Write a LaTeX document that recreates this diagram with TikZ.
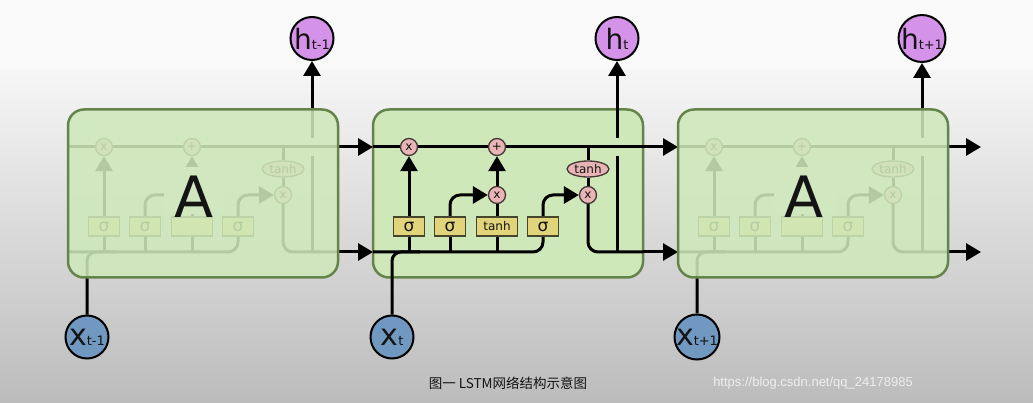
\documentclass[tikz,border=0pt]{standalone}
\usepackage{fontspec}
\setmainfont{DejaVu Sans}
\newfontfamily\cjk{Noto Sans CJK SC}
\newfontfamily\libsans{Liberation Sans}
\usetikzlibrary{arrows.meta,shapes.geometric}
\definecolor{cellfill}{RGB}{206,232,186}
\definecolor{cellline}{RGB}{100,132,76}
\definecolor{opfill}{RGB}{232,180,182}
\definecolor{opline}{RGB}{70,55,55}
\definecolor{gatefill}{RGB}{226,212,122}
\definecolor{gateline}{RGB}{70,70,45}
\definecolor{hfill}{RGB}{212,146,232}
\definecolor{xfill}{RGB}{112,152,192}
\definecolor{bgtop}{RGB}{249,249,249}
\definecolor{bgmid}{RGB}{246,246,246}
\definecolor{bgbot}{RGB}{188,188,188}
\definecolor{patchcol}{RGB}{226,226,226}
\definecolor{urlcol}{RGB}{238,238,238}
\definecolor{ink}{RGB}{20,20,20}
\newcommand{\fs}[1]{\fontsize{#1}{#1}\selectfont}
\pgfdeclarelayer{bg}
\pgfdeclarelayer{wires}
\pgfdeclarelayer{front}
\pgfsetlayers{bg,wires,main,front}
\begin{document}
\begin{tikzpicture}[x=1pt,y=-1pt,
  wire/.style={line width=3pt, draw=black},
  arr/.style={wire, -{Triangle[length=15pt,width=17pt]}},
  op/.style={circle, draw=opline, fill=opfill, line width=1.3pt, minimum size=17pt, inner sep=0pt, font=\fs{12}, text=ink},
  gate/.style={rectangle, draw=gateline, fill=gatefill, line width=1.3pt, minimum width=31pt, minimum height=19pt, inner sep=0pt, font=\fs{17}, text=ink},
  tgate/.style={gate, minimum width=41pt, font=\fs{12}},
  tanhop/.style={ellipse, draw=opline, fill=opfill, line width=1.3pt, minimum width=42pt, minimum height=16pt, inner sep=0pt, font=\fs{12}, text=ink},
  cellbox/.style={rectangle, rounded corners=16pt, draw=cellline, fill=cellfill, line width=2.5pt, minimum width=270pt, minimum height=168pt, inner sep=0pt},
  hcirc/.style={circle, draw=black, fill=hfill, line width=2pt, minimum size=43pt, inner sep=0pt, text=ink},
  xcirc/.style={circle, draw=black, fill=xfill, line width=2pt, minimum size=43pt, inner sep=0pt, text=ink},
  bigA/.style={font=\fs{57}, text=ink, inner sep=0pt}
]
\useasboundingbox (0,0) rectangle (1033,403);
\begin{pgfonlayer}{bg}
  \fill[bgtop] (0,0) rectangle (1033,403);
  \shade[top color=bgmid, bottom color=bgbot] (0,70) rectangle (1033,403);
  \node[cellbox] (boxM) at (508,193.5) {};
\end{pgfonlayer}

% outputs and inputs
\node[hcirc] (hL) at (312,38.5) {\fs{28}h\fs{13}t-1};
\node[hcirc] (hM) at (617,38.5) {\fs{28}h\fs{13}t};
\node[hcirc] (hR) at (922,38.5) {\fs{28}h\fs{13}t+1};
\node[xcirc] (xL) at (87,337) {\fs{30}x\fs{13}t-1};
\node[xcirc] (xM) at (392,337) {\fs{30}x\fs{13}t};
\node[xcirc] (xR) at (697,337) {\fs{30}x\fs{13}t+1};

\foreach \k/\dx/\tl/\ml in {L/-305/{}/{},M/0/tanh/x,R/305/{}/{}}{
\begin{scope}[xshift=\dx pt]
  \coordinate (cin\k) at (373,147);
  \coordinate (cout\k) at (643,147);
  \coordinate (hin\k) at (373,252);
  \coordinate (hout\k) at (643,252);
  \coordinate (xj\k) at (420,252);
  \coordinate (hj\k) at (617,252);
  \coordinate (gb\k) at (617,156);
  \coordinate (gt\k) at (617,138);
  \node[op] (m1\k) at (409,147) {x};
  \node[op] (a\k) at (497,147) {+};
  \node[op] (m2\k) at (497,195) {\ml};
  \node[op] (m3\k) at (588,195) {x};
  \node[tanhop] (th\k) at (588,169) {tanh};
  \node[gate] (s1\k) at (409,226.5) {σ};
  \node[gate] (s2\k) at (450,226.5) {σ};
  \node[tgate] (tb\k) at (497,226.5) {\tl};
  \node[gate] (s4\k) at (543,226.5) {σ};
\end{scope}
\begin{pgfonlayer}{wires}
  \draw[wire] (cin\k) -- (cout\k);
  \draw[wire, rounded corners=10pt] (hin\k) -| (s4\k.south);
  \draw[wire, rounded corners=9pt] (x\k.north) |- (xj\k);
  \draw[wire] (s1\k.south) -- (s1\k.south |- hin\k);
  \draw[wire] (s2\k.south) -- (s2\k.south |- hin\k);
  \draw[wire] (tb\k.south) -- (tb\k.south |- hin\k);
  \draw[arr] (s1\k.north) -- (m1\k.south);
  \draw[arr, rounded corners=10pt] (s2\k.north) |- (m2\k.west);
  \draw[wire] (tb\k.north) -- (m2\k.south);
  \draw[arr] (m2\k.north) -- (a\k.south);
  \draw[arr, rounded corners=10pt] (s4\k.north) |- (m3\k.west);
  \draw[wire] (th\k.north |- cin\k) -- (th\k.north);
  \draw[wire] (th\k.south) -- (m3\k.north);
  \draw[wire, rounded corners=10pt] (m3\k.south) |- (hout\k);
  \draw[wire] (hj\k) -- (gb\k);
  \draw[arr] (gt\k) -- (h\k.south);
\end{pgfonlayer}
}
\coordinate (cend) at (981,147);
\coordinate (hend) at (981,252);
\begin{pgfonlayer}{wires}
  \draw[arr] (coutL) -- (cinM);
  \draw[arr] (houtL) -- (hinM);
  \draw[arr] (coutM) -- (cinR);
  \draw[arr] (houtM) -- (hinR);
  \draw[arr] (coutR) -- (cend);
  \draw[arr] (houtR) -- (hend);
\end{pgfonlayer}

\begin{pgfonlayer}{front}
  \fill[patchcol] (164,167) rectangle (225,214);
  \fill[patchcol] (774,167) rectangle (835,214);
  \node[cellbox, fill opacity=0.87] (boxL) at (203,193.5) {};
  \node[cellbox, fill opacity=0.87] (boxR) at (813,193.5) {};
  \node[bigA] (AL) at (194,197) {A};
  \node[bigA] (AR) at (804,197) {A};
\end{pgfonlayer}

\node[font=\cjk\fs{13.5}, text=ink, inner sep=0pt] (cap) at (508,383) {图一 LSTM网络结构示意图};
\node[font=\libsans\fs{13}, text=urlcol, inner sep=0pt] (url) at (813,383) {https://blog.csdn.net/qq\_24178985};
\end{tikzpicture}
\end{document}
